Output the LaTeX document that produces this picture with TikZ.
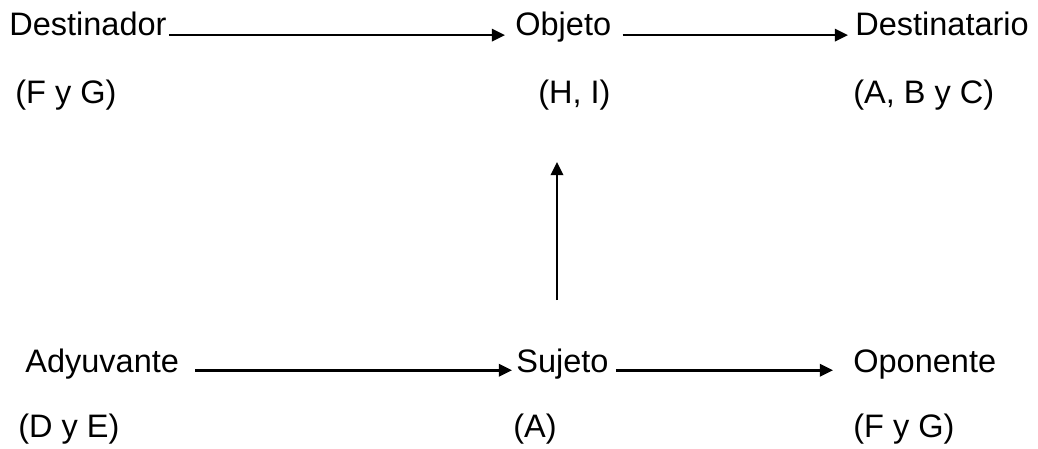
\documentclass[tikz,border=0pt]{standalone}
\usepackage{fontspec}
\setmainfont{Liberation Sans}
\usepackage{xcolor}
\usetikzlibrary{arrows.meta, positioning, calc}
\definecolor{DarkText}{RGB}{0, 0, 0}

\begin{document}
\begin{tikzpicture}[x=0.02cm, y=-0.02cm,
    actant/.style={anchor=base west, inner sep=0pt, text=DarkText,
                   font=\fontsize{18.5}{22}\selectfont},
    flecha/.style={line width=1.45pt, -{Triangle[length=7.5pt, width=7pt]}}]
      \useasboundingbox (0,0) rectangle (1038,449);
      % fila superior
      \node[actant] (destinador)   at (9,36)    {Destinador};
      \node[actant] (objeto)       at (515,36)  {Objeto};
      \node[actant] (destinatario) at (855,36)  {Destinatario};
      \node[actant] (fg1)          at (15,104)  {(F y G)};
      \node[actant] (hi)           at (538,104) {(H, I)};
      \node[actant] (abc)          at (853,104) {(A, B y C)};
      % fila inferior
      \node[actant] (adyuvante)    at (25,372)  {Adyuvante};
      \node[actant] (sujeto)       at (516,372) {Sujeto};
      \node[actant] (oponente)     at (853,372) {Oponente};
      \node[actant] (de)           at (18,437)  {(D y E)};
      \node[actant] (a)            at (513,437) {(A)};
      \node[actant] (fg2)          at (853,437) {(F y G)};
      \coordinate (eje) at (557,0);

      \draw[flecha, shorten <=1.1pt, shorten >=5.7pt] ([yshift=0.5pt]destinador.base east) -- ([yshift=0.5pt]objeto.base west);
      \draw[flecha, shorten <=6.3pt, shorten >=4pt] ([yshift=0.5pt]objeto.base east) -- ([yshift=0.5pt]destinatario.base west);
      \draw[flecha, shorten <=9.1pt, shorten >=2.3pt] ([yshift=1pt]adyuvante.base east) -- ([yshift=1pt]sujeto.base west);
      \draw[flecha, shorten <=4pt, shorten >=11.4pt] ([yshift=1pt]sujeto.base east) -- ([yshift=1pt]oponente.base west);
      \draw[flecha, shorten <=27.3pt, shorten >=29pt] (sujeto.north -| eje) -- (hi.south -| eje);
    \end{tikzpicture}
\end{document}
